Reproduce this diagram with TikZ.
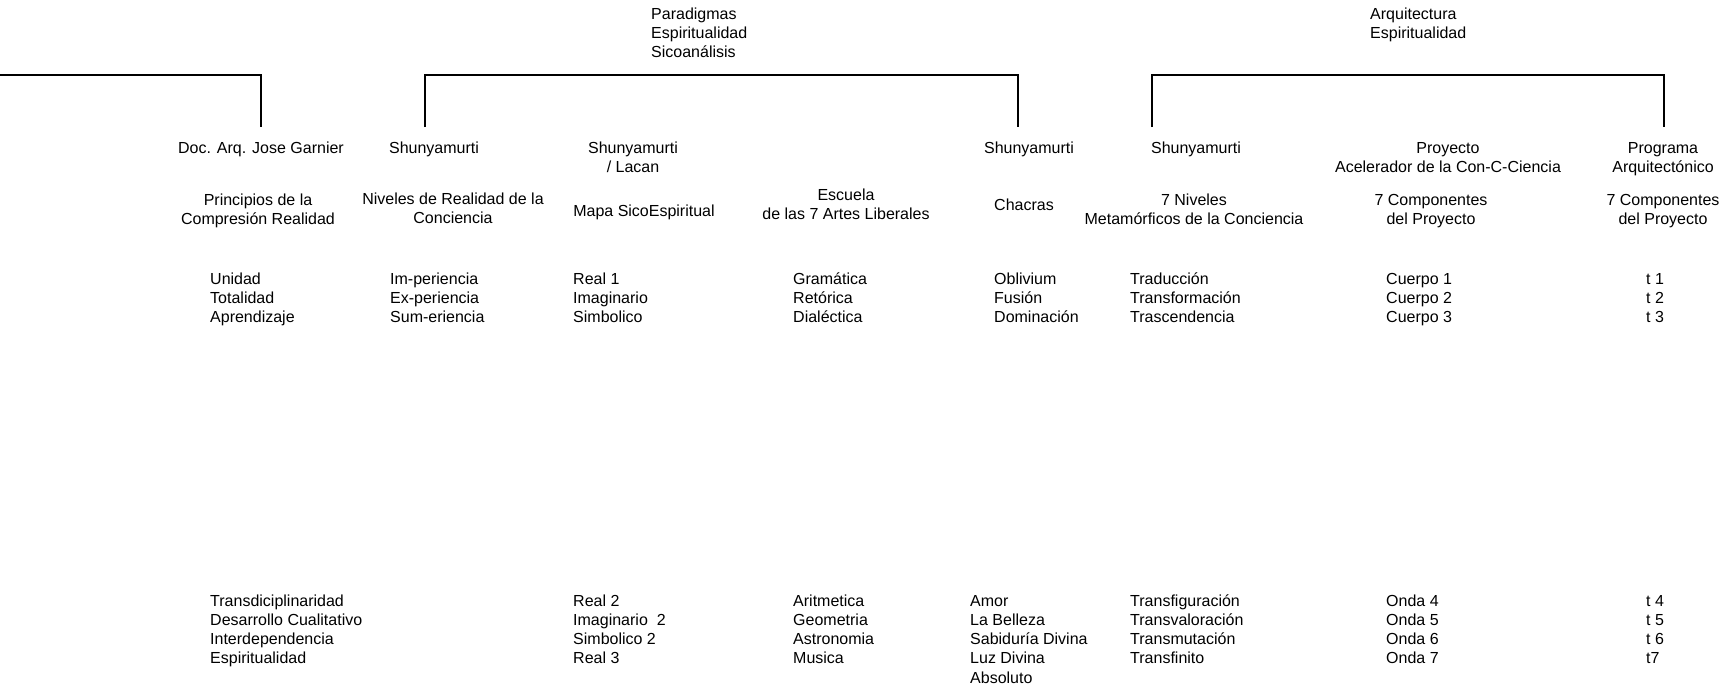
\documentclass[tikz,border=0pt]{standalone}
\usepackage{fontspec}
\setmainfont{Liberation Sans}
\usetikzlibrary{positioning}
\tikzset{
  texto/.style   = {font=\fontsize{16pt}{19.3pt}\selectfont, inner sep=0pt},
  titulo/.style  = {texto, align=center, anchor=base},
  lista/.style   = {texto, align=left, anchor=base west},
  llave/.style   = {line width=2.4pt}
}

\begin{document}
\begin{tikzpicture}[x=1pt, y=-1pt]
        \useasboundingbox (0,0) rectangle (1736,686);

        % grupos de arriba (base = ultima linea)
        \node[lista] (paradigmas) at (651,57.6) {Paradigmas\\ Espiritualidad\\ Sicoanálisis};
        \node[lista] (arquitectura) at (1370,38.3) {Arquitectura\\ Espiritualidad};

        % autores
        \node[titulo] (garnier) at (261,153) {Doc. Arq. Jose Garnier};
        \node[titulo] (shunya) at (434,153) {Shunyamurti};
        \node[titulo] (lacan) at (633,172.3) {Shunyamurti\\ / Lacan};
        \node[titulo] (shunchacras) at (1029,153) {Shunyamurti};
        \node[titulo] (shunniveles) at (1196,153) {Shunyamurti};
        \node[titulo] (proyecto) at (1448,172.3) {Proyecto\\ Acelerador de la Con-C-Ciencia};
        \node[titulo] (programa) at (1663,172.3) {Programa\\ Arquitectónico};

        % temas
        \node[titulo] (principios) at (258,224.3) {Principios de la\\ Compresión Realidad};
        \node[titulo] (realidad) at (453,223.3) {Niveles de Realidad de la\\ Conciencia};
        \node[titulo] (mapa) at (644,216) {Mapa SicoEspiritual};
        \node[titulo] (escuela) at (846,219.3) {Escuela\\ de las 7 Artes Liberales};
        \node[titulo] (chacras) at (1024,210) {Chacras};
        \node[titulo] (niveles) at (1194,224.3) {7 Niveles\\ Metamórficos de la Conciencia};
        \node[titulo] (componentes) at (1431,224.3) {7 Componentes\\ del Proyecto};
        \node[titulo] (componentesprog) at (1663,224.3) {7 Componentes\\ del Proyecto};

        % listas 1-3
        \node[lista] (unidad) at (210,322.6) {Unidad\\ Totalidad\\ Aprendizaje};
        \node[lista] (periencia) at (390,322.6) {Im-periencia\\ Ex-periencia\\ Sum-eriencia};
        \node[lista] (real) at (573,322.6) {Real 1\\ Imaginario\\ Simbolico};
        \node[lista] (trivium) at (793,322.6) {Gramática\\ Retórica\\ Dialéctica};
        \node[lista] (oblivium) at (994,322.6) {Oblivium\\ Fusión\\ Dominación};
        \node[lista] (traduccion) at (1130,322.6) {Traducción\\ Transformación\\ Trascendencia};
        \node[lista] (cuerpo) at (1386,322.6) {Cuerpo 1\\ Cuerpo 2\\ Cuerpo 3};
        \node[lista] (tiempos) at (1646,322.6) {t 1\\ t 2\\ t 3};

        % listas 4-7
        \node[lista] (transdisc) at (210,663.9) {Transdiciplinaridad\\ Desarrollo Cualitativo\\ Interdependencia\\ Espiritualidad};
        \node[lista] (realdos) at (573,663.9) {Real 2\\ Imaginario\ \ 2\\ Simbolico 2\\ Real 3};
        \node[lista] (quadrivium) at (793,663.9) {Aritmetica\\ Geometria\\ Astronomia\\ Musica};
        \node[lista] (amor) at (970,683.2) {Amor\\ La Belleza\\ Sabiduría Divina\\ Luz Divina\\ Absoluto};
        \node[lista] (transfig) at (1130,663.9) {Transfiguración\\ Transvaloración\\ Transmutación\\ Transfinito};
        \node[lista] (onda) at (1386,663.9) {Onda 4\\ Onda 5\\ Onda 6\\ Onda 7};
        \node[lista] (tiemposdos) at (1646,663.9) {t 4\\ t 5\\ t 6\\ t7};

        % llaves
        \coordinate (borde) at (0,75);
        \coordinate (pgarnier) at (261,127);
        \coordinate (pshunya) at (425,127);
        \coordinate (pchacras) at (1018,127);
        \coordinate (pniveles) at (1152,127);
        \coordinate (pprograma) at (1664,127);

        \draw[llave] (borde) -| (pgarnier);
        \draw[llave] (pshunya) -- ++(0,-52) -| (pchacras);
        \draw[llave] (pniveles) -- ++(0,-52) -| (pprograma);
    \end{tikzpicture}
\end{document}
